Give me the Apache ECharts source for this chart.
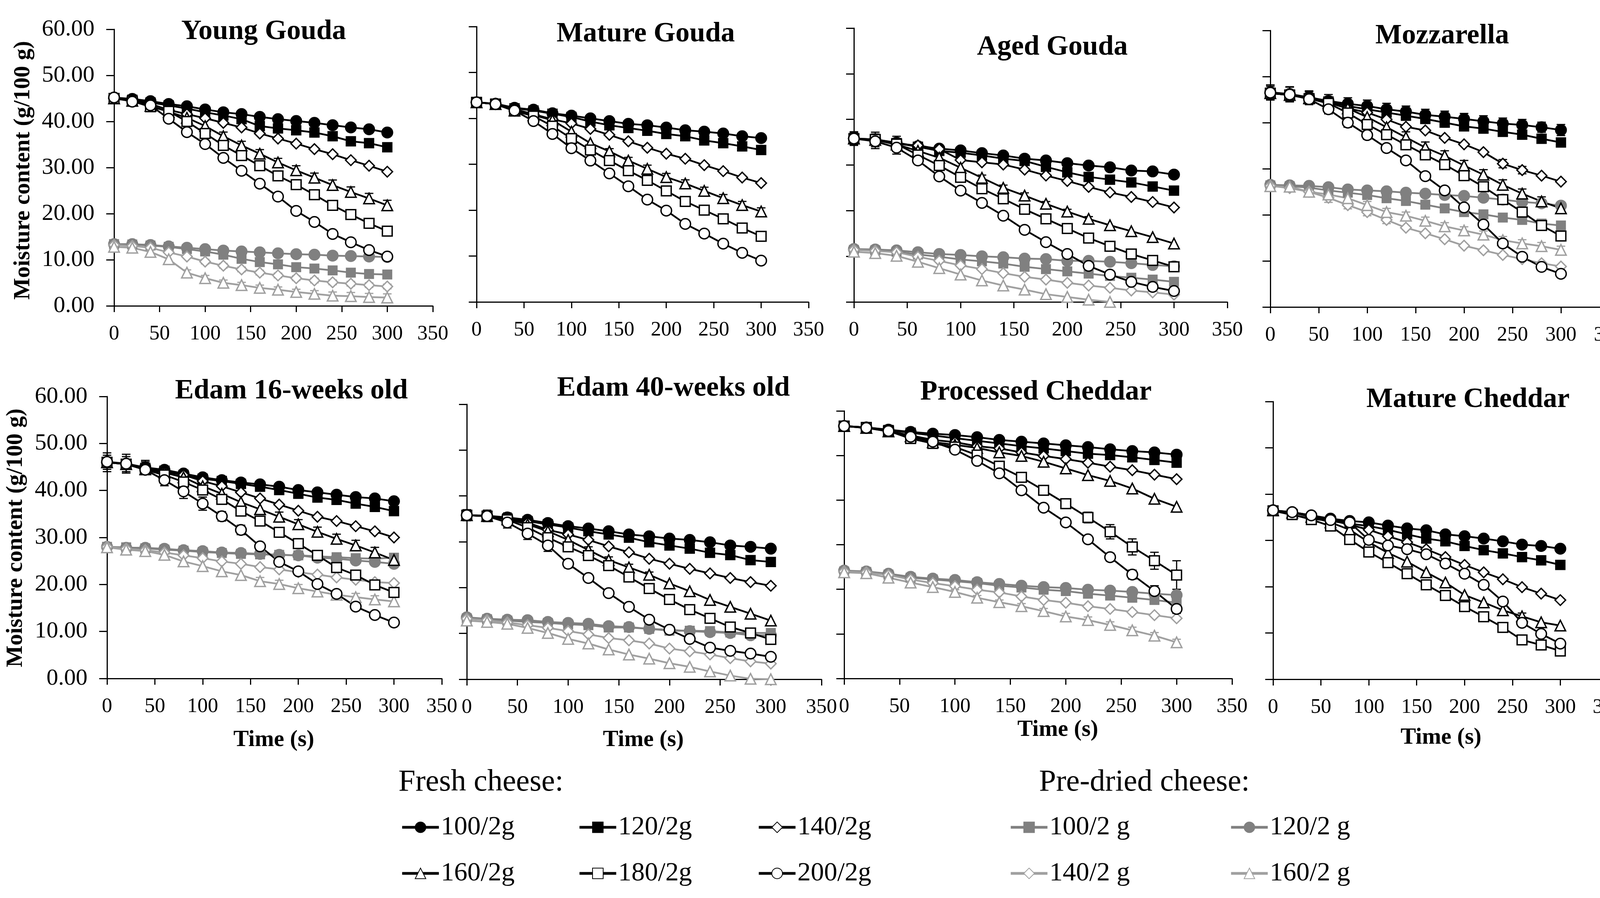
<!DOCTYPE html>
<html><head><meta charset="utf-8">
<script src="https://cdn.jsdelivr.net/npm/echarts@6/dist/echarts.min.js"></script>
<style>html,body{margin:0;padding:0;background:#fff}#c{width:4190px;height:2299px}</style>
</head><body><div id="c"></div>
<script>
const times = [0,20,40,60,80,100,120,140,160,180,200,220,240,260,280,300];
const xTicks = [0,50,100,150,200,250,300,350];
const yTicks = [0,10,20,30,40,50,60];
const panelTitles = ['Young Gouda','Mature Gouda','Aged Gouda','Mozzarella','Edam 16-weeks old','Edam 40-weeks old','Processed Cheddar','Mature Cheddar'];

const youngGouda = {
  f100:[45.2,44.9,44.4,43.8,43.3,42.6,42.0,41.6,41.0,40.5,40.1,39.7,39.2,38.7,38.3,37.6],
  f120:[45.0,44.7,44.1,43.5,42.8,42.0,41.3,40.5,39.0,38.5,38.1,37.6,36.8,35.7,35.3,34.4],
  f140:[45.0,44.6,43.8,42.5,41.6,40.7,39.7,38.7,37.4,36.3,35.2,34.0,32.9,31.6,30.4,29.1],
  f160:[45.0,44.5,43.4,42.1,40.8,39.0,36.8,34.8,33.0,31.1,29.4,27.8,26.2,24.7,23.3,21.8],
  f180:[45.0,44.4,43.2,42.2,40.0,37.4,34.8,32.6,30.4,28.2,26.3,24.1,21.8,19.8,17.9,16.2],
  f200:[45.2,44.3,43.5,40.6,37.7,35.1,32.1,29.3,26.5,23.7,20.6,18.2,15.6,13.8,12.1,10.7],
  p100:[13.4,13.3,13.1,12.8,12.3,11.8,11.1,10.2,9.5,9.0,8.4,8.1,7.7,7.2,6.9,6.8],
  p120:[13.4,13.4,13.2,12.9,12.6,12.3,12.0,11.8,11.6,11.4,11.2,11.1,10.9,10.8,10.7,10.6],
  p140:[13.2,13.0,12.6,11.6,10.7,9.6,8.7,7.9,7.2,6.6,6.0,5.5,5.1,4.8,4.5,4.2],
  p160:[12.8,12.6,11.7,10.1,7.2,6.0,5.0,4.5,3.9,3.5,3.0,2.6,2.2,2.1,1.9,1.8]
};
const matureGouda = {
  f100:[43.5,43.2,42.3,41.9,41.1,40.6,40.0,39.4,38.8,38.5,38.0,37.4,37.1,36.7,36.1,35.7],
  f120:[43.5,43.2,42.2,41.7,41.0,40.3,39.3,38.5,37.9,37.3,36.6,36.1,35.2,34.6,33.9,33.1],
  f140:[43.5,43.1,42.0,40.9,39.8,38.9,37.7,36.4,35.0,33.6,32.3,31.2,29.8,28.5,27.1,25.9],
  f160:[43.5,43.1,41.7,40.7,39.6,37.1,34.6,32.8,30.8,29.0,27.2,25.8,24.2,22.6,21.1,19.7],
  f180:[43.5,43.1,41.6,40.5,38.3,35.6,33.1,30.8,28.6,26.5,24.2,21.9,20.0,18.1,16.1,14.3],
  f200:[43.5,43.1,41.7,39.4,36.6,33.5,30.8,28.0,25.2,22.3,19.9,17.0,14.9,12.7,10.7,9.0]
};
const agedGouda = {
  f100:[35.8,35.6,34.9,34.1,33.6,33.2,32.6,32.1,31.4,31.0,30.4,29.9,29.5,28.8,28.6,27.9],
  f120:[35.8,35.6,34.8,34.0,33.1,32.7,32.1,31.4,30.9,29.6,28.4,27.4,26.8,26.2,25.3,24.4],
  f140:[35.8,35.5,34.6,34.3,33.5,31.1,30.6,30.1,29.0,27.7,26.5,25.2,24.0,23.0,21.9,20.7],
  f160:[35.8,35.5,34.5,33.1,31.6,29.4,27.2,25.0,23.3,21.5,19.8,18.2,16.8,15.5,14.2,12.8],
  f180:[35.8,35.6,34.6,32.2,29.9,27.3,24.8,22.6,20.3,18.2,16.1,14.0,12.2,10.5,9.1,7.7],
  f200:[35.8,35.2,33.8,31.0,27.5,24.4,21.7,18.9,15.8,13.1,10.5,7.9,6.0,4.4,3.3,2.4],
  p100:[11.4,11.3,11.0,10.4,9.9,9.3,8.9,8.4,7.7,7.2,6.7,6.2,5.7,5.3,4.9,4.4],
  p120:[11.6,11.5,11.3,10.9,10.5,10.3,10.0,9.8,9.5,9.4,9.0,9.0,8.8,8.5,8.1,7.8],
  p140:[11.4,11.2,10.9,9.9,9.0,8.0,7.2,6.3,5.5,4.9,4.2,3.6,3.1,2.5,2.1,1.6],
  p160:[11.0,10.7,10.1,8.8,7.4,6.0,4.7,3.6,2.7,1.7,1.1,0.5,0.0,null,null,null]
};
const mozzarella = {
  f100:[46.6,46.2,45.5,44.7,44.1,43.6,42.9,42.4,41.7,41.3,40.8,40.3,39.8,39.5,39.0,38.4],
  f120:[46.4,46.1,45.3,44.6,43.6,42.9,42.2,41.5,40.8,40.0,39.2,38.7,38.0,37.4,36.5,35.7],
  f140:[46.4,46.0,45.5,44.4,43.1,42.2,40.7,39.1,38.3,36.7,35.3,33.6,31.1,29.7,28.5,27.2],
  f160:[46.4,46.0,45.3,44.3,43.1,41.2,39.0,36.8,34.6,32.8,30.7,28.7,26.5,24.6,22.9,21.4],
  f180:[46.4,46.0,45.2,44.2,42.1,39.6,37.4,35.2,33.0,30.9,28.5,26.1,23.3,20.6,17.7,15.4],
  f200:[46.5,46.1,45.1,42.9,40.0,37.3,34.5,31.8,28.4,25.3,21.6,17.9,13.8,10.9,8.7,7.2],
  p100:[26.4,26.2,25.9,25.3,24.8,24.3,23.6,23.0,22.2,21.4,20.6,20.1,19.4,18.9,18.1,17.7],
  p120:[26.5,26.4,26.3,26.0,25.5,25.3,25.1,24.8,24.6,24.3,24.1,23.7,23.3,22.8,22.5,22.0],
  p140:[26.3,25.8,25.0,23.7,22.1,20.6,18.9,17.2,16.0,14.7,13.3,12.3,11.3,10.4,9.5,8.8],
  p160:[26.2,26.1,25.0,24.4,23.6,22.1,20.6,19.8,18.7,17.5,16.6,15.7,14.5,13.8,13.2,12.4]
};
const edam16 = {
  f100:[46.0,45.7,44.9,44.4,43.6,42.8,42.2,41.7,41.3,40.8,40.1,39.6,39.1,38.6,38.3,37.7],
  f120:[46.0,45.6,44.8,44.2,43.3,42.5,42.0,41.4,40.8,40.1,39.3,38.5,38.0,37.2,36.5,35.6],
  f140:[46.0,45.6,44.6,44.0,43.3,42.0,40.9,39.6,38.3,37.0,35.7,34.4,33.5,32.4,31.3,30.0],
  f160:[46.0,45.6,44.5,43.8,42.8,40.9,39.3,37.5,36.0,34.4,32.8,31.2,29.7,28.3,26.8,25.2],
  f180:[46.0,45.6,44.4,43.3,41.8,40.1,38.1,35.6,33.5,31.1,28.7,26.2,23.6,22.0,19.9,18.3],
  f200:[46.1,45.7,44.4,42.2,39.8,37.2,34.5,31.6,28.1,24.8,22.8,20.1,18.0,15.3,13.5,11.9],
  p100:[28.0,27.9,27.7,27.4,27.2,26.9,26.7,26.5,26.4,26.3,26.2,26.0,25.8,25.6,25.5,25.7],
  p120:[28.0,27.8,27.8,27.6,27.3,27.1,26.8,26.7,26.5,26.3,26.2,25.7,25.5,25.1,24.8,24.4],
  p140:[28.0,27.6,27.3,26.8,26.2,25.6,24.9,24.4,23.7,23.2,22.6,22.1,21.5,21.0,20.5,20.3],
  p160:[27.9,27.4,27.1,26.3,24.9,23.9,22.8,22.0,20.7,20.1,19.2,18.5,17.8,17.3,16.8,16.4]
};
const edam40 = {
  f100:[35.8,35.7,35.3,34.8,34.1,33.4,32.9,32.3,31.6,31.2,30.7,30.4,29.9,29.2,28.9,28.5],
  f120:[35.8,35.6,35.1,34.5,33.8,33.1,32.3,31.6,30.9,29.9,29.2,28.5,27.6,27.1,26.0,25.6],
  f140:[35.8,35.6,35.0,34.2,32.6,31.6,30.4,29.0,27.7,26.3,25.2,24.1,23.1,22.1,21.2,20.4],
  f160:[35.8,35.6,34.9,33.8,32.3,30.4,28.2,26.0,24.4,22.8,20.9,19.2,17.3,15.8,14.3,12.8],
  f180:[35.8,35.6,34.8,33.1,30.9,28.9,27.0,24.8,22.3,19.8,17.4,15.2,13.3,11.4,10.1,8.7],
  f200:[35.8,35.6,34.2,31.8,29.2,25.2,22.1,18.8,15.8,13.0,10.8,8.8,6.9,6.2,5.6,4.9],
  p100:[13.3,13.1,12.8,12.5,12.3,12.0,11.8,11.3,11.3,11.0,10.6,10.6,10.5,10.2,10.1,10.1],
  p120:[13.5,13.2,13.0,12.9,12.5,12.3,12.1,11.6,11.4,11.0,10.8,10.5,10.3,10.1,9.6,9.6],
  p140:[13.2,12.9,12.4,11.8,11.2,10.5,9.8,9.0,8.5,7.8,6.7,6.1,5.4,4.6,3.9,3.4],
  p160:[12.8,12.5,12.1,11.2,10.1,8.8,7.8,6.5,5.4,4.5,3.5,2.7,1.7,0.8,0.1,0.0]
};
const processedCheddar = {
  f100:[56.6,56.3,55.8,55.3,54.9,54.6,54.1,53.5,53.1,52.7,52.3,51.9,51.4,51.0,50.7,50.2],
  f120:[56.6,56.3,55.7,55.1,54.5,53.9,53.3,52.7,52.1,51.6,51.0,50.4,50.1,49.6,49.0,48.4],
  f140:[56.6,56.2,55.5,54.5,53.5,53.0,52.1,51.6,50.7,49.9,49.2,48.4,47.5,46.7,45.7,44.7],
  f160:[56.6,56.2,55.4,54.3,53.0,52.4,51.7,50.7,49.9,48.6,47.1,45.6,44.3,42.6,40.3,38.5],
  f180:[56.6,56.3,55.5,53.8,52.7,51.9,50.1,47.6,45.1,42.2,39.2,36.1,32.9,29.5,26.4,23.2],
  f200:[56.6,56.2,55.5,54.2,53.1,51.3,48.8,46.0,42.2,38.3,35.0,31.2,27.2,23.3,19.6,15.6],
  p100:[24.0,23.9,23.3,22.6,22.2,21.8,21.4,20.8,20.4,19.9,19.6,19.0,18.6,18.1,17.6,17.0],
  p120:[24.2,24.0,23.5,22.8,22.4,22.1,21.6,21.2,20.8,20.5,20.3,19.9,19.7,19.4,19.0,18.7],
  p140:[24.0,23.8,23.2,22.2,21.4,20.7,19.9,19.3,18.4,17.6,17.0,16.2,15.6,14.9,14.2,13.5],
  p160:[23.8,23.6,22.6,21.5,20.5,19.4,18.1,17.1,16.2,15.1,13.9,13.1,12.0,10.8,9.6,8.1]
};
const matureCheddar = {
  f100:[36.5,36.1,35.4,34.7,34.2,33.9,33.2,32.6,32.2,31.3,30.9,30.4,29.8,29.1,28.8,28.2],
  f120:[36.4,35.5,34.7,34.2,33.6,33.1,32.3,31.3,30.4,29.8,28.8,27.9,27.2,26.4,25.7,24.7],
  f140:[36.5,36.0,35.2,34.4,33.4,32.3,30.9,29.6,28.1,26.4,24.7,23.1,21.6,19.9,18.5,17.1],
  f160:[36.5,36.0,35.1,33.9,32.3,29.6,27.3,25.4,23.1,20.9,18.2,16.6,14.9,13.6,12.3,11.6],
  f180:[36.4,35.6,34.5,33.1,30.2,27.5,25.2,22.8,20.4,18.1,15.7,13.5,11.2,8.5,7.4,6.1],
  f200:[36.5,36.1,35.4,34.4,33.9,30.1,28.9,28.1,27.0,25.0,22.8,20.4,16.8,12.2,9.8,7.7]
};

// standard deviations (error bars); 0 = no visible bar
const errYoungGouda = {
  f160:[0,0,0,0,0,0,0.9,0.9,0.9,0.9,1.0,1.0,1.1,1.1,1.1,1.1],
  f200:[0,0,0,0,0,0,0,0.8,0.8,0.8,0.8,0.8,0.8,0.8,0.6,0.5],
  p140:[0,0,0,0,0,0.5,0.5,0.5,0.5,0.5,0.5,0.5,0.5,0.5,0.5,0.5],
  p160:[0,0,0,0,0.6,0.6,0.6,0.6,0.6,0.6,0.6,0.7,0.8,0.8,0.8,0.8]
};
const errMatureGouda = {
  f160:[0,0,0,0,0,0,0,0.6,0.7,0.8,0.8,0.8,0.8,0.8,0.8,0.8],
  f180:[0,0,0,0,0,0,0,0.6,0.7,0.7,0.8,0.8,0.8,0.8,0.8,0.8]
};
const errAgedGouda = {
  f100:[1.5,1.6,1.4,0,0,0,0,0,0,0,0,0,0,0,0,0],
  f160:[0,0,0,0,0,0,0.6,0.6,0.6,0.5,0.5,0.5,0,0,0,0],
  f200:[1.3,1.6,1.4,0,0,0,0,0,0,0,0,0,0,0,0,0]
};
const errMozzarella = {
  f100:[1.6,1.6,1.4,1.4,1.3,1.3,1.3,1.2,1.2,1.2,1.2,1.2,1.2,1.2,1.1,1.2],
  f120:[1.5,1.6,1.4,0,0,0,0,0,0,0,0,0,0,0,0,0],
  f140:[0,0,0,0,0,0,0,0,0,0,0,0,0.9,0.8,0,0],
  f160:[0,0,0,0,0,0,0,1.2,1.2,1.1,1.1,1.1,1.1,1.0,1.0,0],
  f200:[0,0,0,1.0,1.0,0.9,0.8,0.8,0,0,0,0,0,0,0,0],
  p140:[0,0,0,1.0,0.8,0.8,0.8,0,0,0,0,0,0,0,0,0],
  p160:[0,0,0.8,0,0,0.8,0.8,0.8,0.8,0.8,0.8,0.8,0.8,0.8,0.8,0.8]
};
const errEdam16 = {
  f100:[2.0,2.0,1.5,0,0,0,0,0,0,0,0,0,0,0,0,0],
  f120:[1.5,1.6,1.3,0,0,0,0,0,0,0,0,0,0,0,0,0],
  f160:[0,0,0,0,0,0,0,0,0,1.0,1.0,1.0,1.0,1.1,1.1,0],
  f200:[0,0,0,1.2,1.5,1.4,1.0,1.0,0.8,0,0,0,0,0,0,0],
  p160:[0,0,0,0,0,0,0,0,0.8,0.8,0.8,0.8,0.8,0.8,0.8,0]
};
const errEdam40 = {
  f100:[1.2,1.2,1.0,0,0,0,0,0,0,0,0,0,0,0,0,0],
  f160:[0,0,0,0,0,0,0.7,0.7,0.7,0.6,0,0,0,0,0,0],
  f200:[0,1.2,1.2,1.3,1.3,0.9,0.8,0,0,0,0,0,0,0,0,0]
};
const errProcessedCheddar = {
  f180:[0,0,0,0,0,0,0,0,0,0.6,0.8,1.2,1.6,1.8,1.9,3.2],
  f200:[0,0,0,0,0,0,0,0,0,0.5,0,0.6,0.9,1.0,1.2,1.0],
  p160:[0,0,0,0,0.5,0.5,0.5,0.5,0.6,0.6,0.7,0.7,0.7,0.7,0.7,0.7]
};
const errMatureCheddar = {
  f160:[0,0,0,0,0,0,0,0,0,0,0,0,0,0.7,0,0],
  f200:[0,0,0,0,0,0,0,0,0,0,0.8,0.8,0,0,0,0]
};

const panelData = [youngGouda, matureGouda, agedGouda, mozzarella, edam16, edam40, processedCheddar, matureCheddar];
const panelErr = [errYoungGouda, errMatureGouda, errAgedGouda, errMozzarella, errEdam16, errEdam40, errProcessedCheddar, errMatureCheddar];

// layout (pixels)
const layout = [
  {l:292,  r:1108, t:75,   b:783,  tx:675,  ty:81,   ylab:true},
  {l:1220, r:2070, t:68,   b:773,  tx:1653, ty:87},
  {l:2186, r:3142, t:72,   b:773,  tx:2694, ty:121},
  {l:3252, r:4120, t:78,   b:786,  tx:3692, ty:92},
  {l:274,  r:1131, t:1015, b:1737, tx:746,  ty:1001, ylab:true, time:[701,1895]},
  {l:1195, r:2103, t:1035, b:1739, tx:1724, ty:994,  time:[1647,1895]},
  {l:2161, r:3154, t:1052, b:1737, tx:2652, ty:1004, time:[2708,1869]},
  {l:3259, r:4117, t:1028, b:1739, tx:3758, ty:1023, time:[3689,1889]}
];

const FONT = 'Liberation Serif';
const GRAY = '#808080', LGRAY = '#a0a0a0';
// series styles; pre-dried first so fresh are on top
const defs = [
  {key:'p100', name:'100/2 g', symbol:'rect',     size:22, fill:GRAY,   line:GRAY},
  {key:'p120', name:'120/2 g', symbol:'circle',   size:27, fill:GRAY,   line:GRAY},
  {key:'p140', name:'140/2 g', symbol:'diamond',  size:27, fill:'#fff', line:LGRAY},
  {key:'p160', name:'160/2 g', symbol:'triangle', size:27, fill:'#fff', line:LGRAY},
  {key:'f100', name:'100/2g',  symbol:'circle',   size:27, fill:'#000', line:'#000'},
  {key:'f120', name:'120/2g',  symbol:'rect',     size:23, fill:'#000', line:'#000'},
  {key:'f140', name:'140/2g',  symbol:'diamond',  size:27, fill:'#fff', line:'#000'},
  {key:'f160', name:'160/2g',  symbol:'triangle', size:27, fill:'#fff', line:'#000'},
  {key:'f180', name:'180/2g',  symbol:'rect',     size:25, fill:'#fff', line:'#000'},
  {key:'f200', name:'200/2g',  symbol:'circle',   size:27, fill:'#fff', line:'#000'}
];

const grids = [], xAxes = [], yAxes = [], series = [], graphics = [];
layout.forEach((L, i) => {
  grids.push({left:L.l, top:L.t, width:L.r - L.l, height:L.b - L.t, containLabel:false});
  xAxes.push({
    type:'value', gridIndex:i, min:xTicks[0], max:xTicks[xTicks.length-1], interval:xTicks[1]-xTicks[0],
    axisLine:{show:true, onZero:false, lineStyle:{color:'#000', width:3}},
    axisTick:{show:true, length:16, lineStyle:{color:'#000', width:3}},
    axisLabel:{show:true, margin:46, fontFamily:FONT, fontSize:53, color:'#000'},
    splitLine:{show:false}
  });
  yAxes.push({
    type:'value', gridIndex:i, min:yTicks[0], max:yTicks[yTicks.length-1], interval:yTicks[1]-yTicks[0],
    axisLine:{show:true, onZero:false, lineStyle:{color:'#000', width:3}},
    axisTick:{show:true, length:20, lineStyle:{color:'#000', width:3}},
    axisLabel:{show:!!L.ylab, margin:50, fontFamily:FONT, fontSize:60, color:'#000',
               formatter: v => v.toFixed(2)},
    splitLine:{show:false}
  });
  const pd = panelData[i], pe = panelErr[i];
  defs.forEach(d => {
    const vals = pd[d.key];
    if (!vals) return;
    const errs = pe[d.key];
    if (errs) {
      const ed = [];
      errs.forEach((e, j) => { if (e > 0 && vals[j] != null) ed.push([times[j], vals[j] - e, vals[j] + e]); });
      const col = d.line;
      series.push({
        type:'custom', xAxisIndex:i, yAxisIndex:i, silent:true, z:1, data:ed,
        encode:{x:0, y:[1,2]},
        renderItem:(params, api) => {
          const x = api.value(0);
          const lo = api.coord([x, api.value(1)]);
          const hi = api.coord([x, api.value(2)]);
          const c = 11, st = {stroke:col, lineWidth:3};
          return {type:'group', children:[
            {type:'line', shape:{x1:lo[0], y1:lo[1], x2:hi[0], y2:hi[1]}, style:st},
            {type:'line', shape:{x1:lo[0]-c, y1:lo[1], x2:lo[0]+c, y2:lo[1]}, style:st},
            {type:'line', shape:{x1:hi[0]-c, y1:hi[1], x2:hi[0]+c, y2:hi[1]}, style:st}
          ]};
        }
      });
    }
    series.push({
      type:'line', name:d.name, xAxisIndex:i, yAxisIndex:i, z:3,
      data: times.map((t, j) => [t, vals[j] == null ? '-' : vals[j]]),
      symbol:d.symbol, symbolSize:d.size, showSymbol:true, connectNulls:false,
      lineStyle:{color:d.line, width:4.5},
      itemStyle:{color:d.fill, borderColor:d.line, borderWidth:3.5},
      emphasis:{disabled:true}, animation:false
    });
  });
  graphics.push({type:'text', x:L.tx, y:L.ty, z:10,
    style:{text:panelTitles[i], font:'bold 72px "Liberation Serif"', fill:'#000',
           align:'center', verticalAlign:'middle', textAlign:'center', textVerticalAlign:'middle'}});
  if (L.time) {
    graphics.push({type:'text', x:L.time[0], y:L.time[1], z:10,
      style:{text:'Time (s)', font:'bold 59px "Liberation Serif"', fill:'#000',
             align:'center', verticalAlign:'middle', textAlign:'center', textVerticalAlign:'middle'}});
  }
});
// y-axis names
[[60, 436], [41, 1377]].forEach(p => {
  graphics.push({type:'text', x:p[0], y:p[1], rotation:Math.PI/2, z:10,
    style:{text:'Moisture content (g/100 g)', font:'bold 59px "Liberation Serif"', fill:'#000',
           align:'center', verticalAlign:'middle', textAlign:'center', textVerticalAlign:'middle'}});
});
// legend headers
graphics.push({type:'text', x:1020, y:2004, style:{text:'Fresh cheese:', font:'78px "Liberation Serif"', fill:'#000', align:'left', verticalAlign:'middle', textAlign:'left', textVerticalAlign:'middle'}});
graphics.push({type:'text', x:2660, y:2004, style:{text:'Pre-dried cheese:', font:'78px "Liberation Serif"', fill:'#000', align:'left', verticalAlign:'middle', textAlign:'left', textVerticalAlign:'middle'}});

const legendPos = [
  ['100/2g', 1021, 2117], ['120/2g', 1475, 2117], ['140/2g', 1934, 2117],
  ['160/2g', 1021, 2235], ['180/2g', 1475, 2235], ['200/2g', 1934, 2235],
  ['100/2 g', 2579, 2117], ['120/2 g', 3143, 2117],
  ['140/2 g', 2579, 2235], ['160/2 g', 3143, 2235]
];
const legends = legendPos.map(p => ({
  data:[p[0]], left:p[1], top:p[2] - 38, orient:'horizontal', selectedMode:false,
  itemWidth:94, itemHeight:34, itemGap:0,
  lineStyle:{width:7},
  textStyle:{fontFamily:FONT, fontSize:68, color:'#000', padding:[0,0,0,0]}
}));

const chart = echarts.init(document.getElementById('c'), null, {renderer:'canvas'});
chart.setOption({
  animation:false, backgroundColor:'#fff',
  grid:grids, xAxis:xAxes, yAxis:yAxes, series:series, legend:legends, graphic:graphics
});
</script></body></html>
